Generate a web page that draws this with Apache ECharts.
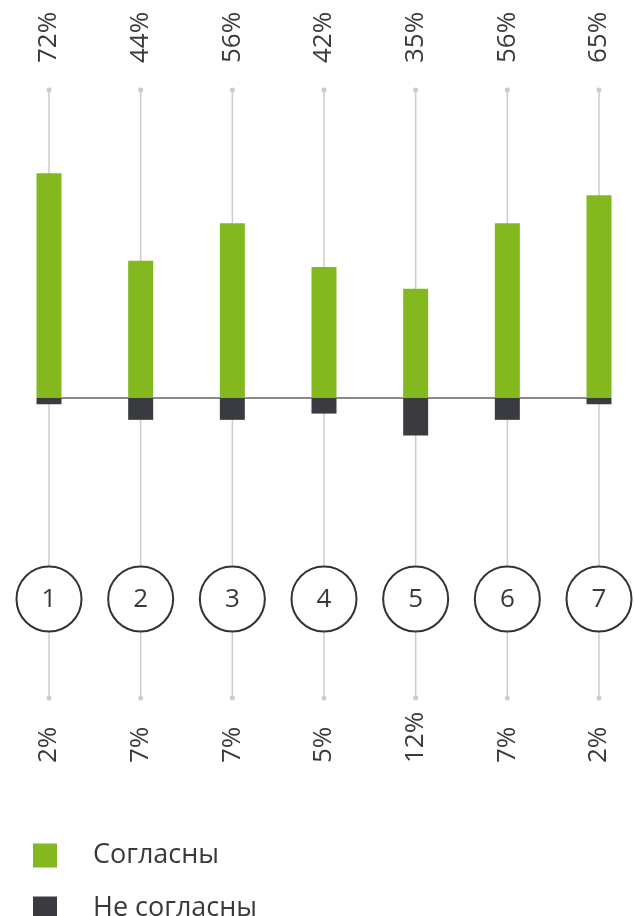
<!DOCTYPE html>
<html><head><meta charset="utf-8">
<script src="https://cdn.jsdelivr.net/npm/echarts@6/dist/echarts.min.js"></script>
<style>html,body{margin:0;padding:0;background:#fff}#c{width:634px;height:916px}</style>
</head><body><div id="c"></div>
<script>
const categories = ['1','2','3','4','5','6','7'];
const agree = [72, 44, 56, 42, 35, 56, 65];
const disagree = [2, 7, 7, 5, 12, 7, 2];
const seriesNames = ['Согласны', 'Не согласны'];
const agreeLabels = agree.map(v => v + '%');
const disagreeLabels = disagree.map(v => v + '%');

const GREEN = '#84b81f';
const DARK = '#3a3b40';
const TEXT = '#3a3a3a';
const FONT = '26px "Open Sans", sans-serif';

const chart = echarts.init(document.getElementById('c'), null, {renderer: 'canvas'});

function renderDecor(params, api) {
  const i = api.value(0);
  const p = api.coord([i, 0]);
  const x = p[0], base = p[1];
  const top = base - 308, bottom = base + 300, cy = base + 201, r = 32.5;
  const children = [
    {type: 'line', shape: {x1: x, y1: top, x2: x, y2: bottom}, style: {stroke: '#cccccc', lineWidth: 1.5}},
    {type: 'circle', shape: {cx: x, cy: top, r: 2.5}, style: {fill: '#cccccc'}},
    {type: 'circle', shape: {cx: x, cy: bottom, r: 2.5}, style: {fill: '#cccccc'}},
    {type: 'circle', shape: {cx: x, cy: cy, r: r}, style: {fill: '#ffffff', stroke: '#333333', lineWidth: 2}},
    {type: 'text', x: x, y: cy + 1, style: {text: categories[i], font: FONT, fill: TEXT, align: 'center', verticalAlign: 'middle', textAlign: 'center', textVerticalAlign: 'middle'}},
    {type: 'text', x: x, y: base - 335, rotation: Math.PI / 2, style: {text: agreeLabels[i], font: FONT, fill: TEXT, align: 'left', verticalAlign: 'middle', textAlign: 'left', textVerticalAlign: 'middle'}},
    {type: 'text', x: x, y: base + 365, rotation: Math.PI / 2, style: {text: disagreeLabels[i], font: FONT, fill: TEXT, align: 'left', verticalAlign: 'middle', textAlign: 'left', textVerticalAlign: 'middle'}}
  ];
  if (i < categories.length - 1) {
    const q = api.coord([i + 1, 0]);
    children.push({type: 'line', shape: {x1: x, y1: base, x2: q[0], y2: base}, style: {stroke: '#8a8a8a', lineWidth: 2}});
  }
  return {type: 'group', children: children};
}

chart.setOption({
  animation: false,
  backgroundColor: '#ffffff',
  grid: {left: 49, top: 86, width: 550, height: 624},
  xAxis: {type: 'category', data: categories, show: false, boundaryGap: false},
  yAxis: {type: 'value', min: -100, max: 100, show: false},
  legend: {
    data: seriesNames,
    orient: 'vertical',
    left: 33, top: 842, height: 100,
    padding: 0,
    itemWidth: 24, itemHeight: 24, itemGap: 26,
    icon: 'rect',
    textStyle: {fontSize: 27, lineHeight: 24, fontFamily: '"Open Sans", sans-serif', color: TEXT, padding: [0, 0, 0, 31]}
  },
  series: [
    {type: 'custom', name: 'decor', z: 1, silent: true, data: categories.map((c, i) => [i]), renderItem: renderDecor},
    {type: 'bar', name: seriesNames[0], z: 3, data: agree, barWidth: 25, barGap: '-100%', itemStyle: {color: GREEN}},
    {type: 'bar', name: seriesNames[1], z: 3, data: disagree.map(v => -v), barWidth: 25, barGap: '-100%', itemStyle: {color: DARK}}
  ]
});
</script></body></html>
